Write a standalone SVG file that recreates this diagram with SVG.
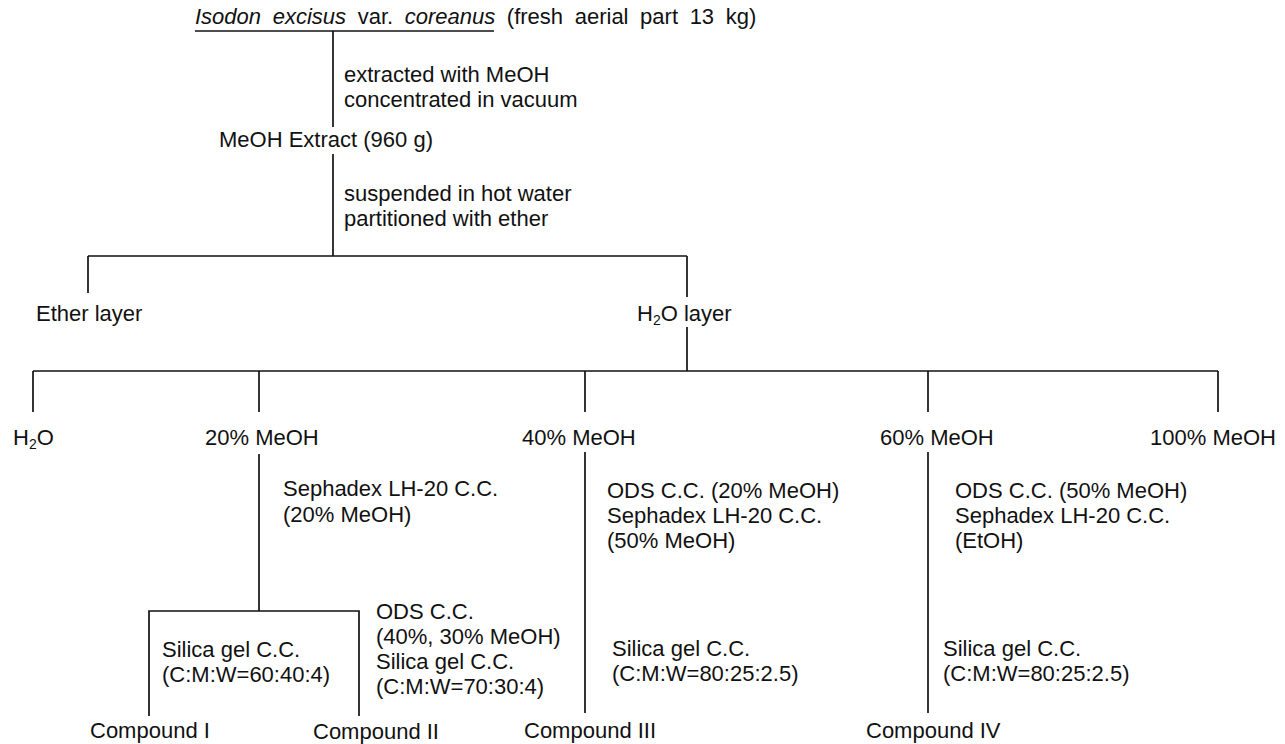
<svg xmlns="http://www.w3.org/2000/svg" width="1285" height="744" viewBox="0 0 1285 744">
<style>
text{font-family:"Liberation Sans",Arial,sans-serif;font-size:22px;fill:#111;}
.i{font-style:italic;}
.sub{font-size:14px;}
.c line,.c path{stroke:#111;stroke-width:1.7;fill:none;}
</style>
<rect width="1285" height="744" fill="#fff"/>
<g class="c" id="connectors">
<line x1="195" y1="31" x2="494" y2="31"/>
<line x1="333" y1="31" x2="333" y2="127"/>
<line x1="333" y1="154" x2="333" y2="256"/>
<line x1="88" y1="256" x2="687" y2="256"/>
<line x1="88" y1="256" x2="88" y2="293"/>
<line x1="687" y1="256" x2="687" y2="297"/>
<line x1="687" y1="327" x2="687" y2="371"/>
<line x1="33" y1="371" x2="1218" y2="371"/>
<line x1="33" y1="371" x2="33" y2="412"/>
<line x1="259" y1="371" x2="259" y2="412"/>
<line x1="585" y1="371" x2="585" y2="412"/>
<line x1="928" y1="371" x2="928" y2="412"/>
<line x1="1218" y1="371" x2="1218" y2="412"/>
<line x1="259" y1="454" x2="259" y2="611"/>
<path d="M149 716 V611 H359 V716"/>
<line x1="585" y1="452" x2="585" y2="713"/>
<line x1="928" y1="452" x2="928" y2="713"/>
</g>
<g id="plant"><text x="195" y="24" word-spacing="5.5"><tspan class="i">Isodon excisus</tspan> var. <tspan class="i">coreanus</tspan> (fresh aerial part 13 kg)</text></g>
<g id="step1"><text x="344" y="82">extracted with MeOH</text><text x="344" y="107">concentrated in vacuum</text></g>
<g id="extract"><text x="219" y="147">MeOH Extract (960 g)</text></g>
<g id="step2"><text x="344" y="201">suspended in hot water</text><text x="344" y="226">partitioned with ether</text></g>
<g id="ether"><text x="36" y="321">Ether layer</text></g>
<g id="h2olayer"><text x="637" y="321">H<tspan class="sub" dy="4">2</tspan><tspan dy="-4">O layer</tspan></text></g>
<g id="fr-h2o"><text x="13" y="445">H<tspan class="sub" dy="4">2</tspan><tspan dy="-4">O</tspan></text></g>
<g id="fr-20"><text x="205" y="445">20% MeOH</text></g>
<g id="fr-40"><text x="522" y="445">40% MeOH</text></g>
<g id="fr-60"><text x="880" y="445">60% MeOH</text></g>
<g id="fr-100"><text x="1150" y="445">100% MeOH</text></g>
<g id="step20"><text x="283" y="496">Sephadex LH-20 C.C.</text><text x="283" y="522">(20% MeOH)</text></g>
<g id="step40"><text x="607" y="498">ODS C.C. (20% MeOH)</text><text x="607" y="523">Sephadex LH-20 C.C.</text><text x="607" y="548">(50% MeOH)</text></g>
<g id="step60"><text x="955" y="498">ODS C.C. (50% MeOH)</text><text x="955" y="523">Sephadex LH-20 C.C.</text><text x="955" y="548">(EtOH)</text></g>
<g id="box20"><text x="162" y="657">Silica gel C.C.</text><text x="162" y="682">(C:M:W=60:40:4)</text></g>
<g id="step20b"><text x="376" y="619">ODS C.C.</text><text x="376" y="644">(40%, 30% MeOH)</text><text x="376" y="669">Silica gel C.C.</text><text x="376" y="694">(C:M:W=70:30:4)</text></g>
<g id="step40b"><text x="612" y="656">Silica gel C.C.</text><text x="612" y="681">(C:M:W=80:25:2.5)</text></g>
<g id="step60b"><text x="943" y="656">Silica gel C.C.</text><text x="943" y="681">(C:M:W=80:25:2.5)</text></g>
<g id="cpd1"><text x="90" y="738">Compound I</text></g>
<g id="cpd2"><text x="313" y="739">Compound II</text></g>
<g id="cpd3"><text x="524" y="738">Compound III</text></g>
<g id="cpd4"><text x="866" y="738">Compound IV</text></g>
</svg>
